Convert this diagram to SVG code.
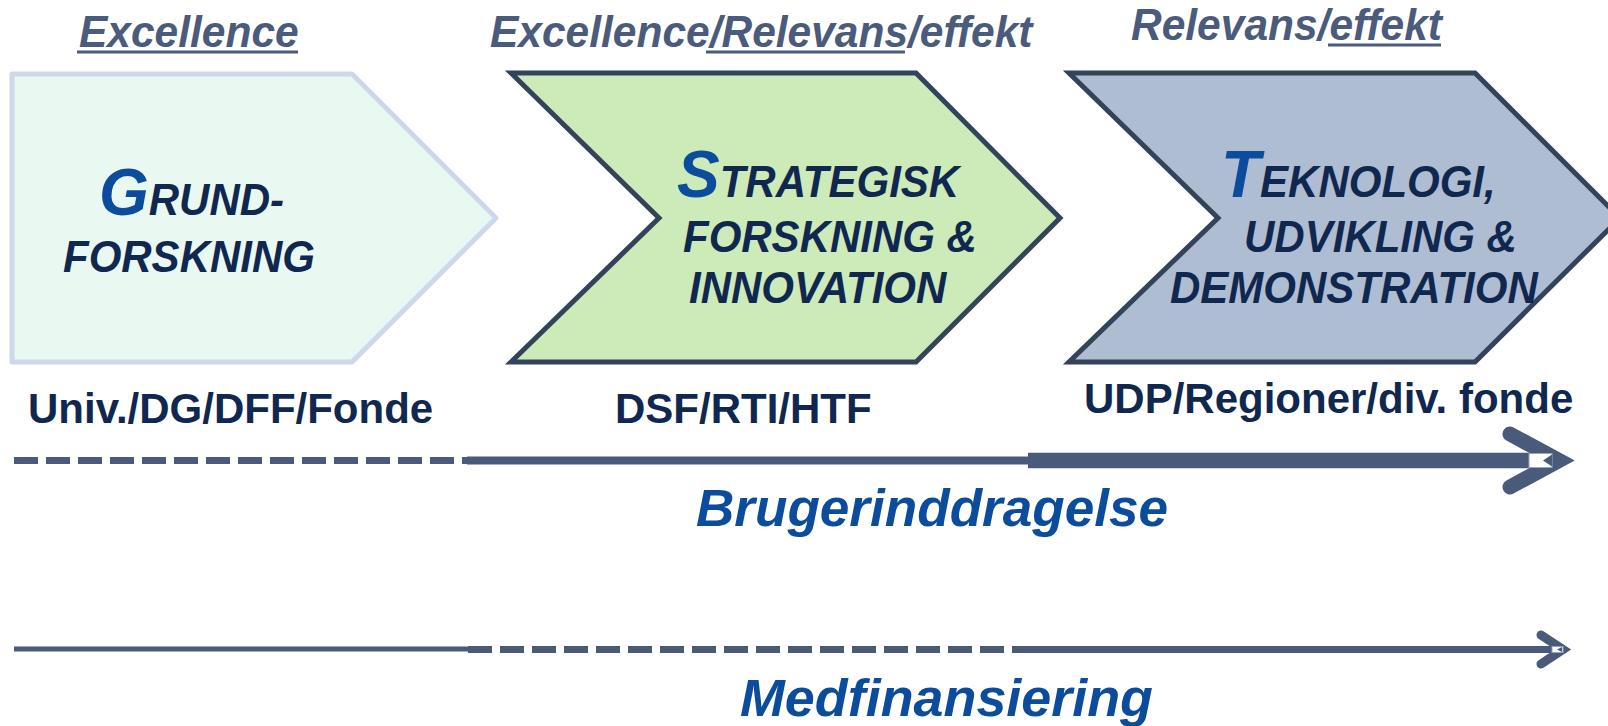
<svg xmlns="http://www.w3.org/2000/svg" width="1608" height="726" viewBox="0 0 1608 726">
<style>
text{font-family:"Liberation Sans",Arial,sans-serif;font-weight:bold}
.it{font-style:italic}
.title{fill:#4b5b7b;font-size:42.5px}
.body{fill:#10284f;font-size:42px}
.big{fill:#0b4c9c;font-size:64px}
.fund{fill:#10284f;font-size:42px}
.flow{fill:#0b4c9c;font-size:51px}
.ul{stroke:#4b5b7b;stroke-width:3}
.con{stroke:#4a5a7a;fill:none}
.head{stroke:#4a5a7a;fill:none;stroke-linecap:round;stroke-linejoin:miter}
</style>
<rect width="1608" height="726" fill="#ffffff"/>
<g id="titles">
<text class="title it" transform="translate(79,47) scale(1,1.05)">Excellence</text>
<line class="ul" x1="77" y1="52" x2="298" y2="52"/>
<text class="title it" transform="translate(490,47) scale(1,1.05)">Excellence/Relevans/effekt</text>
<line class="ul" x1="706" y1="52" x2="905" y2="52"/>
<text class="title it" transform="translate(1131,40) scale(1,1.05)">Relevans/effekt</text>
<line class="ul" x1="1328" y1="45" x2="1441" y2="45"/>
</g>
<g id="grund">
<polygon points="12,74 352,74 496,218 352,362 12,362" fill="#eaf8f2" stroke="#cdd8ea" stroke-width="5" stroke-linejoin="round"/>
<text class="body it" transform="translate(99,215) scale(1,1.05)"><tspan class="big">G</tspan>RUND-</text>
<text class="body it" transform="translate(63,272) scale(1,1.05)">FORSKNING</text>
</g>
<g id="strategisk">
<polygon points="511,73 916,73 1060,218 916,362 511,362 659,218" fill="#cdeab9" stroke="#33435a" stroke-width="5"/>
<text class="body it" transform="translate(677,197) scale(1,1.05)"><tspan class="big">S</tspan>TRATEGISK</text>
<text class="body it" transform="translate(683,252) scale(1,1.05)">FORSKNING &amp;</text>
<text class="body it" transform="translate(689,303) scale(1,1.05)">INNOVATION</text>
</g>
<g id="teknologi">
<polygon points="1069,73 1475,73 1620,218 1475,362 1069,362 1218,218" fill="#afbdd2" stroke="#33435a" stroke-width="5"/>
<text class="body it" transform="translate(1221,197) scale(1,1.05)"><tspan class="big">T</tspan>EKNOLOGI,</text>
<text class="body it" transform="translate(1244,252) scale(1,1.05)">UDVIKLING &amp;</text>
<text class="body it" transform="translate(1170,303) scale(1,1.05)">DEMONSTRATION</text>
</g>
<g id="funders">
<text class="fund" x="28" y="423">Univ./DG/DFF/Fonde</text>
<text class="fund" x="615" y="423">DSF/RTI/HTF</text>
<text class="fund" x="1084" y="413">UDP/Regioner/div. fonde</text>
</g>
<g id="connectors">
<line class="con" x1="14" y1="460.5" x2="468" y2="460.5" stroke-width="7" stroke-dasharray="24 8"/>
<line class="con" x1="467" y1="460.5" x2="1030" y2="460.5" stroke-width="8"/>
<line class="con" x1="1028" y1="460.5" x2="1530" y2="460.5" stroke-width="15.5"/>
<polyline class="head" points="1510,434 1559,460.5 1510,487" stroke-width="15"/>
<rect x="1529" y="453.5" width="23" height="14" fill="#ffffff" stroke="#9aa5b8" stroke-width="1"/>
<polygon points="1543,460.5 1552,454.5 1552,466.5" fill="#4a5a7a"/>
<line class="con" x1="14" y1="649" x2="468" y2="649" stroke-width="5"/>
<line class="con" x1="468" y1="649.5" x2="1028" y2="649.5" stroke-width="7" stroke-dasharray="24 8"/>
<line class="con" x1="1027" y1="649.5" x2="1553" y2="649.5" stroke-width="7"/>
<polyline class="head" points="1541,635 1563,649.5 1541,664" stroke-width="9"/>
<rect x="1552" y="646.5" width="11" height="6" fill="#ffffff" stroke="#9aa5b8" stroke-width="1"/>
<polygon points="1557,649.5 1562,647 1562,652" fill="#4a5a7a"/>
</g>
<g id="labels">
<text class="flow it" x="696" y="526" textLength="472" lengthAdjust="spacingAndGlyphs">Brugerinddragelse</text>
<text class="flow it" x="740" y="716" textLength="413" lengthAdjust="spacingAndGlyphs">Medfinansiering</text>
</g>
</svg>
